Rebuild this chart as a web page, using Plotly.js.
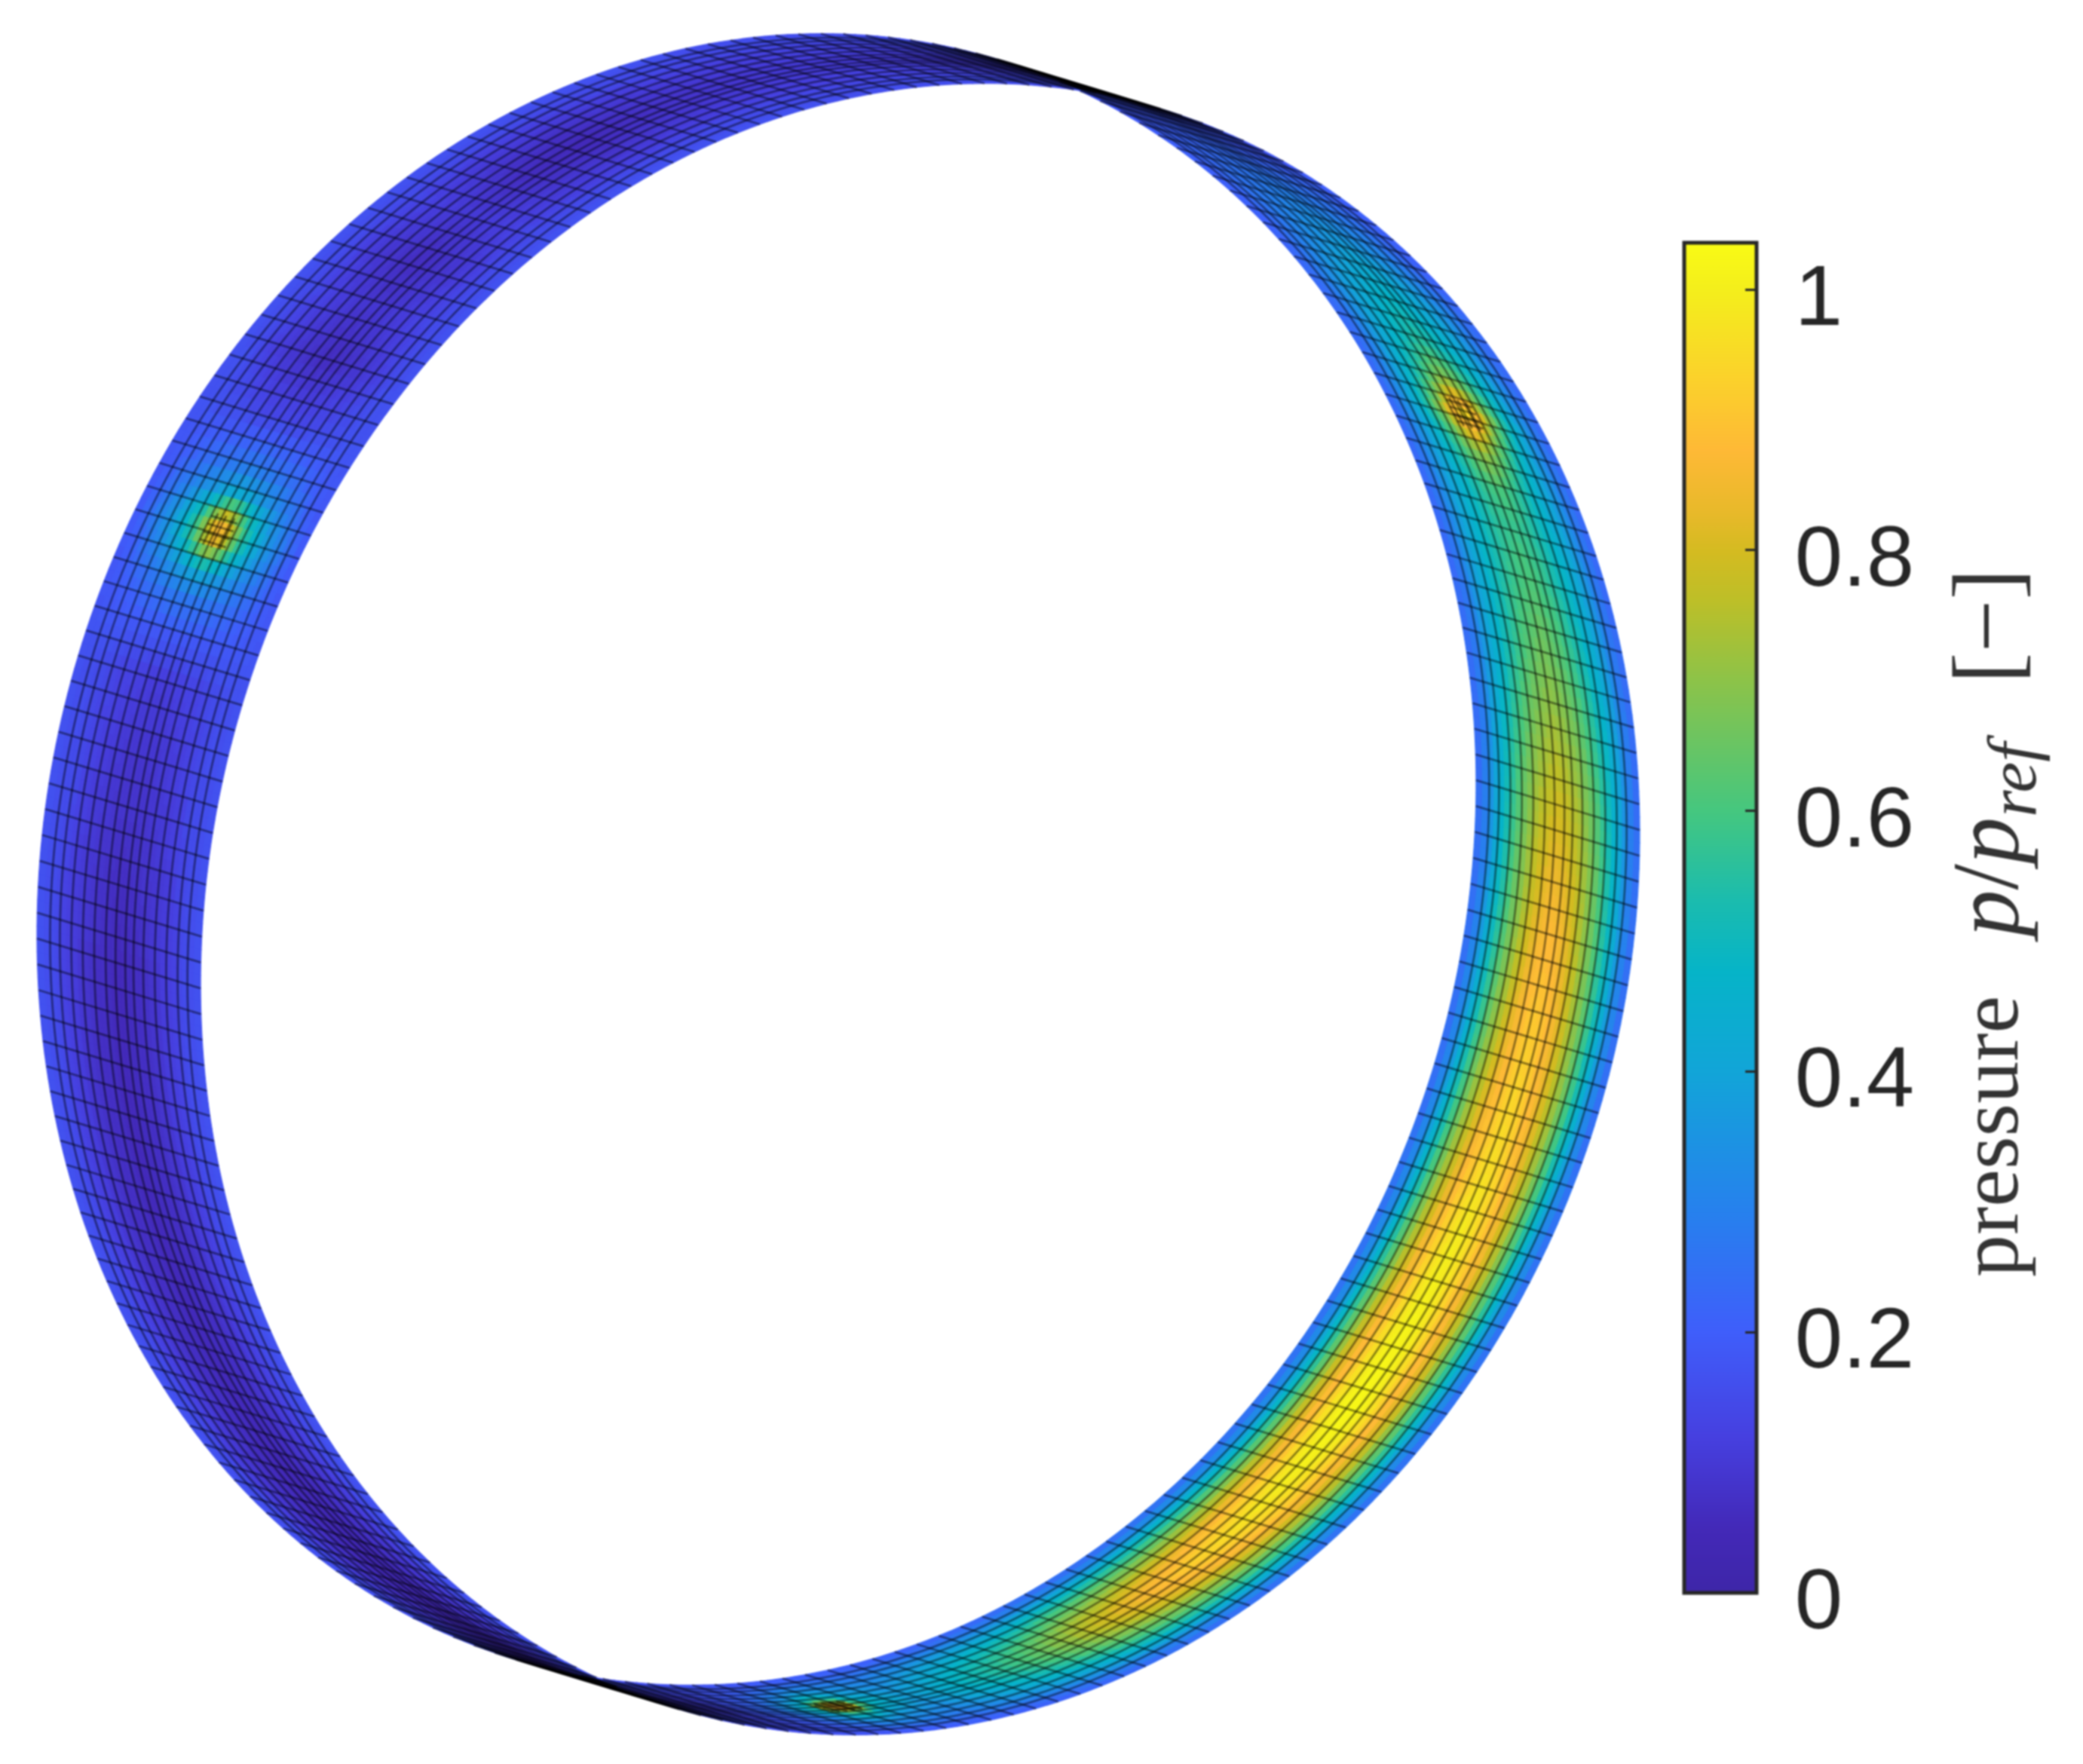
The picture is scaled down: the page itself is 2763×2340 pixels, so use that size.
<!DOCTYPE html>
<html><head><meta charset="utf-8">
<script src="https://cdn.plot.ly/plotly-3.0.1.min.js"></script>
<style>html,body{margin:0;padding:0;background:#fff}#chart{filter:blur(.9px)}</style></head>
<body><div id="chart" style="width:2763px;height:2340px"></div>
<script>
// circumferential station of each row (degrees)
const thetaDeg = [-180,-175,-170,-165,-160,-155,-150,-145,-140,-135,-130,-125,-120,-115,-110,-105,-100,-95,-90,-85,-80,-75,-72.5,-71.5,-70.5,-69.5,-68.5,-65,-60,-55,-50,-45,-40,-35,-30,-25,-20,-15,-10,-5,0,5,10,15,20,25,30,35,40,43,46,48,49,50,52,55,60,65,70,75,80,85,90,95,100,105,110,115,120,125,130,135,140,145,150,155,160,164,166,167,168,169,170,171,172,174,177,180];
// axial station of each column (fraction of the width)
const widthFrac = [0,.07,.15,.25,.37,.44,.5,.56,.63,.75,.85,.93,1];
// pressure p/p_ref, one row per thetaDeg
const pressure = [
[.17,.16,.15,.13,.12,.11,.11,.11,.12,.13,.15,.16,.17],
[.17,.16,.14,.12,.10,.09,.09,.09,.10,.12,.14,.16,.17],
[.17,.16,.14,.11,.09,.08,.08,.08,.09,.11,.14,.16,.17],
[.17,.16,.13,.10,.08,.07,.06,.07,.08,.10,.13,.16,.17],
[.17,.16,.13,.10,.07,.06,.05,.06,.07,.10,.13,.16,.17],
[.17,.16,.13,.10,.07,.06,.05,.06,.07,.10,.13,.16,.17],
[.17,.16,.13,.10,.07,.06,.05,.06,.07,.10,.13,.16,.17],
[.17,.16,.13,.10,.07,.06,.05,.06,.07,.10,.13,.16,.17],
[.17,.16,.13,.10,.07,.06,.05,.06,.07,.10,.13,.16,.17],
[.17,.16,.13,.10,.07,.06,.05,.06,.07,.10,.13,.16,.17],
[.17,.16,.13,.10,.07,.06,.05,.06,.07,.10,.13,.16,.17],
[.17,.16,.13,.10,.07,.06,.05,.06,.07,.10,.13,.16,.17],
[.17,.16,.12,.09,.06,.05,.04,.05,.06,.09,.12,.16,.17],
[.17,.16,.12,.09,.06,.05,.04,.05,.06,.09,.12,.16,.17],
[.17,.16,.12,.09,.06,.05,.04,.05,.06,.09,.12,.16,.17],
[.17,.16,.12,.09,.06,.05,.04,.05,.06,.09,.12,.16,.17],
[.17,.16,.13,.10,.07,.06,.05,.06,.07,.10,.13,.16,.17],
[.17,.16,.13,.10,.07,.06,.05,.06,.07,.10,.13,.16,.17],
[.16,.15,.13,.10,.08,.07,.07,.07,.08,.10,.13,.15,.16],
[.16,.15,.14,.12,.10,.09,.09,.09,.10,.12,.14,.15,.16],
[.16,.16,.15,.14,.13,.13,.13,.13,.13,.14,.15,.16,.16],
[.17,.18,.19,.21,.24,.26,.27,.26,.24,.21,.19,.18,.17],
[.18,.19,.23,.29,.38,.46,.50,.46,.38,.29,.23,.19,.18],
[.18,.20,.26,.33,.48,.66,.78,.66,.48,.33,.26,.20,.18],
[.19,.21,.28,.37,.55,.78,.92,.78,.55,.37,.28,.21,.19],
[.19,.21,.28,.36,.50,.68,.78,.68,.50,.36,.28,.21,.19],
[.19,.22,.28,.34,.42,.48,.50,.48,.42,.34,.28,.22,.19],
[.20,.22,.27,.31,.35,.37,.38,.37,.35,.31,.27,.22,.20],
[.20,.24,.33,.41,.47,.49,.50,.49,.47,.41,.33,.24,.20],
[.21,.27,.38,.49,.58,.61,.62,.61,.58,.49,.38,.27,.21],
[.22,.30,.45,.59,.71,.75,.77,.75,.71,.59,.45,.30,.22],
[.22,.31,.49,.65,.79,.84,.87,.84,.79,.65,.49,.31,.22],
[.22,.33,.52,.69,.85,.91,.94,.91,.85,.69,.52,.33,.22],
[.22,.34,.53,.73,.90,.95,.98,.95,.90,.73,.53,.34,.22],
[.22,.34,.54,.74,.91,.98,1.01,.98,.91,.74,.54,.34,.22],
[.22,.34,.55,.76,.94,1.01,1.03,1.01,.94,.76,.55,.34,.22],
[.22,.34,.55,.76,.93,1.0,1.02,1.0,.93,.76,.55,.34,.22],
[.22,.34,.54,.74,.91,.98,1.01,.98,.91,.74,.54,.34,.22],
[.22,.33,.53,.73,.90,.96,.99,.96,.90,.73,.53,.33,.22],
[.22,.33,.52,.71,.87,.93,.96,.93,.87,.71,.52,.33,.22],
[.22,.32,.51,.70,.85,.91,.94,.91,.85,.70,.51,.32,.22],
[.22,.32,.50,.68,.83,.89,.91,.89,.83,.68,.50,.32,.22],
[.22,.31,.49,.65,.80,.86,.88,.86,.80,.65,.49,.31,.22],
[.22,.30,.47,.63,.77,.82,.84,.82,.77,.63,.47,.30,.22],
[.22,.30,.45,.60,.73,.77,.79,.77,.73,.60,.45,.30,.22],
[.22,.29,.43,.56,.67,.71,.73,.71,.67,.56,.43,.29,.22],
[.22,.28,.40,.51,.61,.65,.67,.65,.61,.51,.40,.28,.22],
[.22,.27,.38,.48,.57,.60,.62,.60,.57,.48,.38,.27,.22],
[.22,.27,.37,.46,.54,.57,.58,.57,.54,.46,.37,.27,.22],
[.22,.27,.36,.45,.55,.59,.61,.59,.55,.45,.36,.27,.22],
[.22,.27,.36,.47,.60,.68,.72,.68,.60,.47,.36,.27,.22],
[.22,.27,.37,.50,.68,.82,.90,.82,.68,.50,.37,.27,.22],
[.22,.27,.38,.52,.74,.90,.98,.90,.74,.52,.38,.27,.22],
[.22,.27,.37,.50,.68,.82,.90,.82,.68,.50,.37,.27,.22],
[.22,.26,.35,.46,.58,.66,.70,.66,.58,.46,.35,.26,.22],
[.22,.25,.33,.42,.50,.54,.56,.54,.50,.42,.33,.25,.22],
[.22,.25,.31,.38,.43,.46,.47,.46,.43,.38,.31,.25,.22],
[.20,.22,.26,.31,.35,.37,.38,.37,.35,.31,.26,.22,.20],
[.20,.21,.24,.27,.29,.30,.31,.30,.29,.27,.24,.21,.20],
[.20,.21,.22,.23,.24,.25,.25,.25,.24,.23,.22,.21,.20],
[.18,.18,.19,.19,.20,.20,.20,.20,.20,.19,.19,.18,.18],
[.17,.17,.17,.16,.16,.16,.16,.16,.16,.16,.17,.17,.17],
[.16,.16,.15,.14,.13,.13,.13,.13,.13,.14,.15,.16,.16],
[.16,.16,.15,.14,.13,.12,.12,.12,.13,.14,.15,.16,.16],
[.16,.16,.14,.13,.12,.11,.11,.11,.12,.13,.14,.16,.16],
[.16,.16,.14,.13,.12,.11,.11,.11,.12,.13,.14,.16,.16],
[.16,.16,.14,.13,.12,.11,.11,.11,.12,.13,.14,.16,.16],
[.16,.15,.14,.12,.11,.10,.10,.10,.11,.12,.14,.15,.16],
[.17,.16,.14,.12,.10,.09,.09,.09,.10,.12,.14,.16,.17],
[.17,.16,.14,.11,.09,.08,.07,.08,.09,.11,.14,.16,.17],
[.17,.16,.13,.10,.07,.06,.05,.06,.07,.10,.13,.16,.17],
[.17,.16,.13,.10,.08,.07,.06,.07,.08,.10,.13,.16,.17],
[.17,.16,.14,.12,.11,.10,.10,.10,.11,.12,.14,.16,.17],
[.17,.16,.13,.10,.08,.07,.06,.07,.08,.10,.13,.16,.17],
[.17,.16,.14,.12,.10,.09,.09,.09,.10,.12,.14,.16,.17],
[.17,.16,.13,.10,.08,.07,.06,.07,.08,.10,.13,.16,.17],
[.17,.17,.16,.15,.14,.14,.14,.14,.14,.15,.16,.17,.17],
[.18,.19,.21,.24,.26,.27,.28,.27,.26,.24,.21,.19,.18],
[.18,.20,.25,.30,.36,.40,.42,.40,.36,.30,.25,.20,.18],
[.18,.21,.27,.34,.46,.56,.62,.56,.46,.34,.27,.21,.18],
[.18,.22,.29,.38,.56,.72,.82,.72,.56,.38,.29,.22,.18],
[.18,.23,.30,.40,.60,.80,.92,.80,.60,.40,.30,.23,.18],
[.18,.22,.29,.38,.56,.72,.82,.72,.56,.38,.29,.22,.18],
[.18,.21,.27,.34,.46,.56,.62,.56,.46,.34,.27,.21,.18],
[.18,.20,.25,.30,.36,.40,.42,.40,.36,.30,.25,.20,.18],
[.18,.19,.21,.24,.26,.27,.27,.27,.26,.24,.21,.19,.18],
[.17,.18,.18,.18,.18,.18,.18,.18,.18,.18,.18,.18,.17],
[.17,.16,.15,.13,.12,.11,.11,.11,.12,.13,.15,.16,.17]
];
const colorPositions = [0,.048,.116,.193,.28,.386,.46,.513,.579,.675,.735,.771,.80,.846,.90,.964,1];
const colorValues = ['#3e26a8','#4329b8','#4640e0','#3f5efb','#2780ee','#12a5d8','#06b4c8','#1bbcae','#45c77f','#8cc349','#bdbf28','#d4bb21','#e8b92a','#feb936','#fbd22b','#f4ee1c','#f9fb15'];
const tickValues = [0,.2,.4,.6,.8,1];
const tickLabels = ['0','0.2','0.4','0.6','0.8','1'];
const meshWidthFrac = [.08,.14,.21,.28,.35,.42,.48,.54,.59,.65,.72,.79,.86,.92];
const meshCells = 200;
const sensorAngles = [-70.5,49,169];
const titleText = 'pressure\u2002\u2009<span style="font-size:124px"><i>p</i>/<i>p</i></span><sub><span style="font-size:92px"><i>ref</i></span></sub>\u2002\u2009<span style="font-size:124px">[−]</span>';

// orthographic view of the ring, in picture pixels
const cMax = 1.036, cx = 1112, cy = 1173, major = 1108, minor = 939, shiftX = 217, shiftY = 66;
const ax = [.958,.288], ay = [.288,-.958];
function sx(t,s){const a=t*Math.PI/180;return cx+Math.cos(a)*minor*ax[0]+Math.sin(a)*major*ay[0]+(s-.5)*shiftX;}
function sy(t,s){const a=t*Math.PI/180;return cy+Math.cos(a)*minor*ax[1]+Math.sin(a)*major*ay[1]+(s-.5)*shiftY;}

function bracket(list,v){let i=0;while(i<list.length-2&&list[i+1]<=v)i++;return [i,(v-list[i])/(list[i+1]-list[i])];}
function shade(t,s){
  const [i,f]=bracket(thetaDeg,t),[j,g]=bracket(widthFrac,s);
  return (1-f)*((1-g)*pressure[i][j]+g*pressure[i][j+1])+f*((1-g)*pressure[i+1][j]+g*pressure[i+1][j+1]);
}
function hex(c){return [1,3,5].map(k=>parseInt(c.substr(k,2),16));}
function ramp(v){
  const [i,f]=bracket(colorPositions,Math.min(1,Math.max(0,v))),a=hex(colorValues[i]),b=hex(colorValues[i+1]);
  return 'rgb('+a.map((x,k)=>Math.round(x+(b[k]-x)*f)).join(',')+')';
}
const levels = 128, bins = Array.from({length:levels},()=>({x:[],y:[]}));
const facetT = meshCells*2, facetS = [], facetEdges = [0,...meshWidthFrac,1];
facetEdges.slice(1).forEach((s,i)=>{const p=facetEdges[i];facetS.push([p,(p+s)/2],[(p+s)/2,s]);});
const dt = 360/facetT;
for(let i=0;i<facetT;i++){
  const t0=-180+i*dt,t1=t0+dt;
  facetS.forEach(([s0,s1])=>{
    const v=shade((t0+t1)/2,(s0+s1)/2)/cMax,b=bins[Math.min(levels-1,Math.floor(v*levels))];
    [[t0,s0],[t1,s0],[t1,s1],[t0,s1],[t0,s0]].forEach(([t,s])=>{b.x.push(sx(t,s));b.y.push(sy(t,s));});
    b.x.push(null);b.y.push(null);
  });
}
const data = [];
bins.forEach((b,k)=>{
  if(!b.x.length)return;
  const c=ramp((k+.5)/levels);
  data.push({type:'scatter',mode:'lines',x:b.x,y:b.y,fill:'toself',fillcolor:c,
    line:{color:c,width:1.2,simplify:false},hoverinfo:'skip',showlegend:false});
});
// mesh lines
const meshStyle = {color:'rgba(0,0,0,0.48)',width:2.6,simplify:false};
for(let i=0;i<meshCells;i++){
  const t=i*360/meshCells;
  data.push({type:'scatter',mode:'lines',x:[sx(t,0),sx(t,1)],y:[sy(t,0),sy(t,1)],line:meshStyle,hoverinfo:'skip',showlegend:false});
}
meshWidthFrac.forEach(s=>{
  const xs=[],ys=[];
  for(let i=0;i<=facetT;i++){xs.push(sx(i*dt,s));ys.push(sy(i*dt,s));}
  data.push({type:'scatter',mode:'lines',x:xs,y:ys,line:meshStyle,hoverinfo:'skip',showlegend:false});
});
// refined mesh around the three sensors
sensorAngles.forEach(a=>{
  [-.9,-.3,.3,.9].forEach(d=>data.push({type:'scatter',mode:'lines',x:[sx(a+d,.42),sx(a+d,.58)],y:[sy(a+d,.42),sy(a+d,.58)],line:meshStyle,hoverinfo:'skip',showlegend:false}));
  [.45,.5,.55].forEach(s=>data.push({type:'scatter',mode:'lines',x:[sx(a-1.2,s),sx(a,s),sx(a+1.2,s)],y:[sy(a-1.2,s),sy(a,s),sy(a+1.2,s)],line:meshStyle,hoverinfo:'skip',showlegend:false}));
});
// carrier of the colour bar
data.push({type:'scatter',mode:'markers',x:[-500],y:[-500],hoverinfo:'skip',showlegend:false,
  marker:{size:1,color:[0],cmin:0,cmax:cMax,showscale:true,
    colorscale:colorPositions.map((p,i)=>[p,colorValues[i]]),
    colorbar:{
      x:2234/2763, xanchor:'left', y:(2340-2113)/2340, yanchor:'bottom',
      thicknessmode:'pixels', thickness:96, lenmode:'pixels', len:1791,
      xpad:0, ypad:0, outlinewidth:5, outlinecolor:'#262626',
      tickmode:'array', tickvals:tickValues, ticktext:tickLabels,
      ticks:'inside', ticklen:17, tickwidth:3, tickcolor:'#262626',
      tickfont:{family:'Liberation Sans, Arial, sans-serif', size:114, color:'#262626'}
    }}});
const hidden = {visible:false, autorange:false, fixedrange:true};
const layout = {
  width:2763, height:2340, margin:{l:0,r:0,t:0,b:0}, paper_bgcolor:'#fff', plot_bgcolor:'#fff',
  showlegend:false, hovermode:false,
  xaxis:Object.assign({range:[0,2763]},hidden),
  yaxis:Object.assign({range:[2340,0]},hidden),
  annotations:[{
    xref:'paper', yref:'paper', x:2643/2763, y:1-1224/2340, xanchor:'center', yanchor:'middle',
    text:titleText, textangle:-90, showarrow:false,
    font:{family:'Liberation Serif, Times New Roman, serif', size:112, color:'#333333'}
  }]
};
Plotly.newPlot('chart', data, layout, {displayModeBar:false, staticPlot:true}).then(gd=>{
  gd.querySelectorAll('.colorbar .cbaxis text, .colorbar .ytick text').forEach(t=>{
    t.setAttribute('dx','25');
    t.setAttribute('dy','7');
  });
});
</script></body></html>
